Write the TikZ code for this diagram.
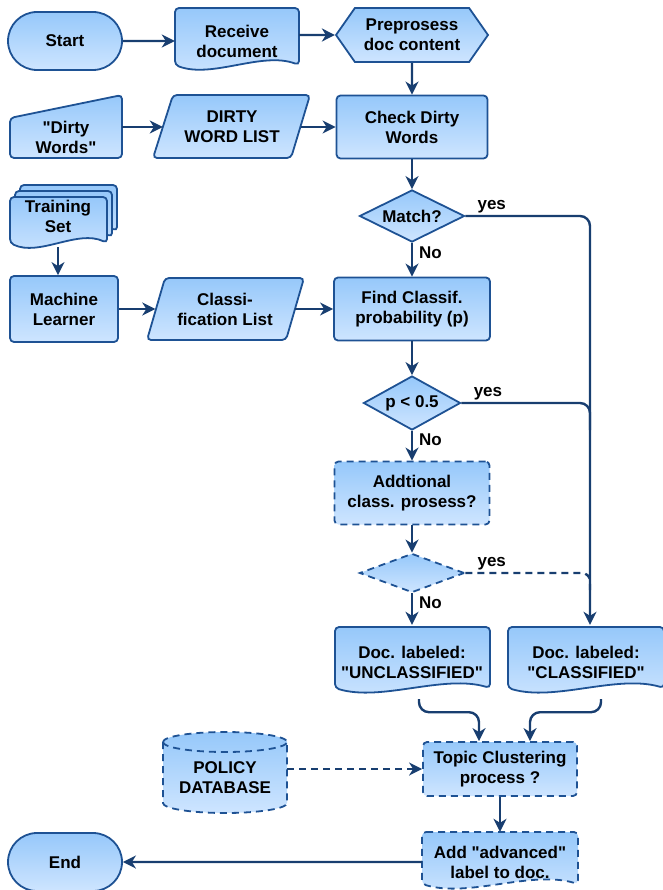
\documentclass[tikz,border=0pt]{standalone}
\usepackage{fontspec}
\setmainfont{Liberation Sans}[Ligatures=TeXOff]
\usetikzlibrary{shapes.geometric,shapes.misc,shapes.symbols,arrows.meta}

\definecolor{bordercol}{RGB}{30,82,148}
\definecolor{linecol}{RGB}{24,62,112}
\definecolor{filltop}{RGB}{150,200,250}
\definecolor{fillbot}{RGB}{206,229,255}

% document shape with a wavy bottom: [style] {left}{top}{width}{height}
\newcommand{\docshape}[5][]{%
  \pgfmathsetmacro{\docR}{#2+#4}%
  \pgfmathsetmacro{\docY}{#3+#5-5}%
  \pgfmathsetmacro{\docA}{#2+0.3*#4}%
  \pgfmathsetmacro{\docB}{#2+0.7*#4}%
  \path[box,rounded corners=4pt,#1] (#2,#3) -- (\docR,#3) -- (\docR,\docY)
    .. controls (\docB,\docY-14) and (\docA,\docY+14) .. (#2,\docY) -- cycle;
}

\begin{document}
\begin{tikzpicture}[x=1pt,y=-1pt]

  \tikzstyle{lbl}=[font=\fontsize{17}{20}\selectfont\bfseries,align=center]
  \tikzstyle{box}=[draw=bordercol,line width=1.8pt,top color=filltop,bottom color=fillbot]
  \tikzstyle{txt}=[lbl,inner sep=0pt]
  \tikzstyle{proc}=[box,lbl,rectangle,rounded corners=4pt,inner sep=0pt]
  \tikzstyle{term}=[box,lbl,rounded rectangle,minimum width=114pt,minimum height=58pt,inner sep=0pt]
  \tikzstyle{decide}=[box,lbl,diamond,aspect=2,inner sep=0pt]
  \tikzstyle{dsh}=[dash pattern=on 7pt off 5pt]
  \tikzstyle{wire}=[draw=linecol,line width=2.4pt]
  \tikzstyle{conn}=[wire,-{Stealth[length=13pt,width=13pt,inset=4pt]}]
  \tikzstyle{lab}=[lbl,inner sep=2pt,xshift=4pt]

  \useasboundingbox (0,0) rectangle (662,890);

  % top row
  \node[term] (start) at (65,41) {Start};
  \docshape{175}{8}{124}{62}
  \node[txt,minimum width=124pt,minimum height=54pt] (recv) at (237,41) {Receive\\document};
  \node[box,lbl,signal,signal to=west and east,signal pointer angle=110,minimum width=152pt,minimum height=54pt,inner sep=0pt] (prep) at (412,35) {Preprosess\\doc content};

  % dirty words
  \path[box,rounded corners=4pt] (10,118) -- (122,95) -- (122,158) -- (10,158) -- cycle;
  \node[txt,minimum width=112pt] (dirty) at (66,137) {"Dirty\\Words"};
  \path[box,rounded corners=4pt] (173,95) -- (310,95) -- (291,158) -- (153,158) -- cycle;
  \node[txt,minimum width=138pt] (dwl) at (232,127) {DIRTY\\WORD LIST};
  \node[proc,minimum width=151pt,minimum height=63pt] (check) at (412,127) {Check Dirty\\Words};
  \node[decide,minimum width=105pt,minimum height=52pt] (match) at (412,216) {Match?};

  % training
  \docshape{20}{185}{97}{51}
  \docshape{15}{191}{97}{51}
  \docshape{10}{197}{97}{51}
  \node[txt,minimum width=97pt,minimum height=62pt] (train) at (58,216) {Training\\Set};
  \node[proc,minimum width=108pt,minimum height=66pt] (ml) at (64,309) {Machine\\Learner};
  \path[box,rounded corners=4pt] (165,278) -- (304,278) -- (286,340) -- (147,340) -- cycle;
  \node[txt,minimum width=139pt] (clist) at (225,309) {Classi-\\fication List};
  \node[proc,minimum width=156pt,minimum height=63pt] (find) at (412,309) {Find Classif.\\probability (p)};

  \node[decide,minimum width=97pt,minimum height=54pt] (pless) at (412,403) {p < 0.5};
  \node[proc,dsh,minimum width=155pt,minimum height=63pt] (addl) at (412,493) {Addtional\\class. prosess?};
  \node[decide,dsh,minimum width=105pt,minimum height=39pt] (dia2) at (412,573) {};

  % labeled docs
  \docshape{335}{627}{155}{66}
  \node[txt,minimum width=155pt,minimum height=74pt] (unclass) at (412,662) {Doc. labeled:\\"UNCLASSIFIED"};
  \docshape{508}{627}{156}{66}
  \node[txt,minimum width=156pt,minimum height=74pt] (class) at (586,662) {Doc. labeled:\\"CLASSIFIED"};

  % policy database
  \path[box,dsh] (163,742) -- (163,803) arc[start angle=180,end angle=360,x radius=62pt,y radius=10pt]
    -- (287,742) arc[start angle=0,end angle=180,x radius=62pt,y radius=10pt] -- cycle;
  \draw[draw=bordercol,line width=1.8pt,dsh] (163,742) arc[start angle=180,end angle=360,x radius=62pt,y radius=10pt];
  \node[txt,minimum width=124pt] (policy) at (225,778) {POLICY\\DATABASE};

  \node[proc,dsh,minimum width=154pt,minimum height=54pt] (topic) at (500,769) {Topic Clustering\\process ?};
  \docshape[dsh]{422}{832}{156}{57}
  \node[txt,minimum width=156pt,minimum height=60pt] (addlbl) at (500,862) {Add "advanced"\\label to doc.};
  \node[term] (end) at (65,862) {End};

  \draw[conn] (start) -- (recv);
  \draw[conn] (recv.east |- prep) -- (prep);
  \draw[conn] (prep) -- (check);
  \draw[conn] (dirty.east |- dwl) -- (dwl);
  \draw[conn] (dwl) -- (check);
  \draw[conn] (check) -- (match);
  \draw[conn] (match) -- (find) node[lab,right,pos=0.3] {No};
  \draw[conn,rounded corners=10pt] (match.east) -| ([xshift=4pt]class.north) node[lab,above right,pos=0.02] {yes};

  \draw[conn] (train.south) -- (train.south |- ml.north);
  \draw[conn] (ml) -- (clist);
  \draw[conn] (clist) -- (find);
  \draw[conn] (find) -- (pless);

  \coordinate (join1) at (590,430);
  \draw[wire,rounded corners=10pt] (pless.east) -| (join1) node[lab,above right,pos=0.02] {yes};
  \draw[conn] (pless) -- (addl) node[lab,right,pos=0.3] {No};
  \draw[conn] (addl) -- (dia2);
  \coordinate (join2) at (590,590);
  \draw[wire,dsh,rounded corners=8pt] (dia2.east) -| (join2) node[lab,above right,pos=0.02] {yes};
  \draw[conn] (dia2) -- (unclass) node[lab,right,pos=0.3] {No};

  \draw[conn,rounded corners=10pt] ([xshift=7pt]unclass.south) -- ++(0,13) -| ([xshift=-21pt]topic.north);
  \draw[conn,rounded corners=10pt] ([xshift=15pt]class.south) -- ++(0,13) -| ([xshift=30pt]topic.north);
  \draw[conn,dsh] (policy.east |- topic) -- (topic);
  \draw[conn] (topic) -- (addlbl);
  \draw[conn] (addlbl) -- (end);

\end{tikzpicture}
\end{document}
